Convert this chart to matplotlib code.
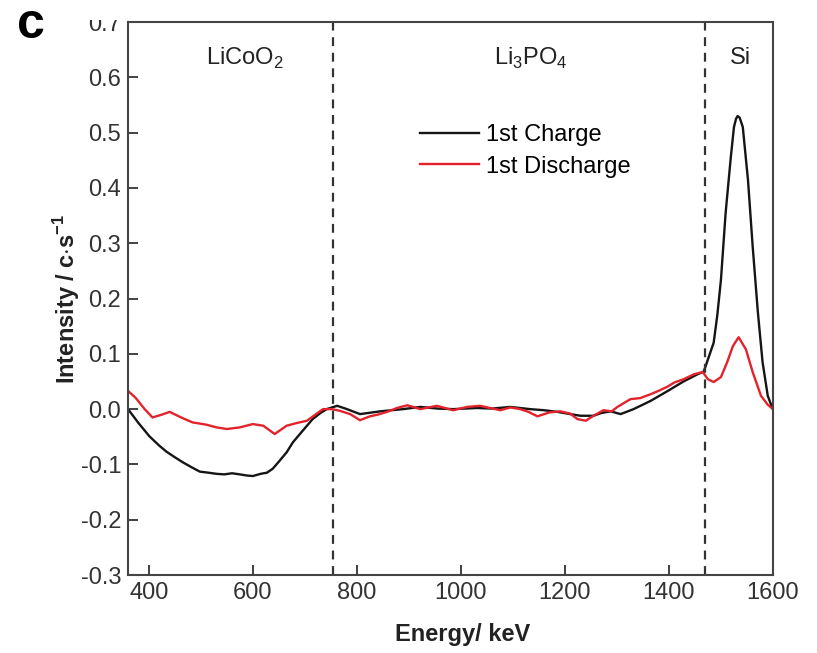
import matplotlib as mpl
import matplotlib.pyplot as plt
from matplotlib.patches import Rectangle

mpl.rcParams['font.family'] = ['Liberation Sans', 'DejaVu Sans']
mpl.rcParams['axes.unicode_minus'] = False
mpl.rcParams['mathtext.fontset'] = 'custom'
mpl.rcParams['mathtext.rm'] = 'Liberation Sans'
mpl.rcParams['mathtext.bf'] = 'Liberation Sans:bold'

# Depth profile after the first charge (black) and first discharge (red).
energy_charge = [360, 380, 401, 420, 434, 450, 465, 482, 498, 515,
                 530, 545, 560, 575, 588, 600, 615, 627, 638, 650,
                 665, 677, 695, 715, 730, 742, 762, 781, 806, 845,
                 889, 922, 955, 985, 1031, 1060, 1095, 1133, 1160, 1186,
                 1210, 1230, 1255, 1270, 1288, 1307, 1332, 1365, 1398, 1428,
                 1455, 1467, 1475, 1486, 1493, 1500, 1509, 1519, 1525, 1529,
                 1532, 1536, 1542, 1552, 1561, 1571, 1580, 1590, 1598, 1600]
charge = [0.0, -0.025, -0.049, -0.066, -0.077, -0.087, -0.096, -0.105, -0.113, -0.115,
          -0.117, -0.118, -0.116, -0.118, -0.12, -0.121, -0.117, -0.115, -0.108, -0.095,
          -0.078, -0.06, -0.04, -0.018, -0.007, 0.0, 0.006, 0.0, -0.009, -0.004,
          0.0, 0.004, 0.001, 0.0, 0.002, 0.001, 0.004, 0.0, -0.002, -0.005,
          -0.009, -0.012, -0.012, -0.007, -0.004, -0.009, 0.0, 0.015, 0.033, 0.05,
          0.063, 0.068, 0.09, 0.12, 0.17, 0.234, 0.355, 0.456, 0.51, 0.525,
          0.53, 0.527, 0.51, 0.414, 0.294, 0.175, 0.085, 0.024, 0.004, 0.0]

energy_discharge = [360, 375, 392, 407, 425, 440, 462, 484, 510, 530,
                    550, 575, 600, 620, 642, 665, 685, 704, 720, 735,
                    752, 767, 787, 806, 825, 840, 858, 877, 897, 922,
                    954, 985, 1012, 1037, 1056, 1076, 1095, 1114, 1130, 1147,
                    1170, 1191, 1210, 1224, 1240, 1255, 1274, 1290, 1301, 1326,
                    1345, 1365, 1380, 1398, 1410, 1428, 1448, 1465, 1475, 1486,
                    1500, 1512, 1523, 1534, 1548, 1561, 1577, 1590, 1600]
discharge = [0.033, 0.02, 0.0, -0.015, -0.01, -0.005, -0.015, -0.024, -0.028, -0.033,
             -0.036, -0.033, -0.027, -0.03, -0.045, -0.03, -0.025, -0.021, -0.01, 0.0,
             0.0, -0.003, -0.009, -0.02, -0.013, -0.01, -0.005, 0.002, 0.007, 0.0,
             0.006, -0.002, 0.004, 0.006, 0.002, -0.002, 0.003, 0.0, -0.005, -0.013,
             -0.006, -0.004, -0.008, -0.018, -0.021, -0.012, -0.002, -0.004, 0.004, 0.018,
             0.02, 0.027, 0.033, 0.041, 0.048, 0.054, 0.063, 0.067, 0.054, 0.049,
             0.058, 0.085, 0.114, 0.13, 0.108, 0.067, 0.024, 0.008, 0.0]

# Layer boundaries and layer names
boundaries = [755, 1470]
layer_names = ['LiCoO$_2$', 'Li$_3$PO$_4$', 'Si']
layer_x = [584, 1134, 1538]

x_ticks = [400, 600, 800, 1000, 1200, 1400, 1600]
y_ticks = [-0.3, -0.2, -0.1, 0.0, 0.1, 0.2, 0.3, 0.4, 0.5, 0.6, 0.7]

fig = plt.figure(figsize=(8.17, 6.53), dpi=100)
ax = fig.add_axes([0.1567, 0.1194, 0.7894, 0.8469])

ax.plot(energy_charge, charge, color='#151515', lw=1.7, label='1st Charge')
ax.plot(energy_discharge, discharge, color='#e3222c', lw=1.7, label='1st Discharge')

for b in boundaries:
    ax.axvline(b, color='#333333', lw=1.6, linestyle=(0, (4, 3)))

for name, xpos in zip(layer_names, layer_x):
    ax.text(xpos, 0.635, name, ha='center', va='center', fontsize=17, color='#222222')

ax.set_xlim(360, 1600)
ax.set_ylim(-0.3, 0.7)
ax.set_xticks(x_ticks)
ax.set_yticks(y_ticks)
ax.set_yticklabels(['%.1f' % v for v in y_ticks])
ax.tick_params(direction='in', length=7, width=1.3, labelsize=17,
               colors='#333333', labelcolor='#333333', pad=5)
for spine in ax.spines.values():
    spine.set_color('#444444')
    spine.set_linewidth(1.5)

ax.set_xlabel('Energy/ keV', fontsize=17, fontweight='bold', color='#222222')
ax.xaxis.set_label_coords(0.519, -0.086)
ax.set_ylabel(r'Intensity / c$\cdot$s$^\mathbf{-1}$', fontsize=17, fontweight='bold',
              color='#222222')
ax.yaxis.set_label_coords(-0.072, 0.5)

ax.legend(loc='upper left', bbox_to_anchor=(0.452, 0.815), frameon=False,
          fontsize=17, handlelength=2.5, handletextpad=0.3, labelspacing=0.4,
          borderpad=0, borderaxespad=0)

# the upper part of the top tick label is hidden under the panel margin
fig.patches.append(Rectangle((0.07, 0.97), 0.08, 0.03, transform=fig.transFigure,
                             facecolor='white', edgecolor='none', zorder=10))

fig.text(0.038, 0.942, 'c', fontsize=36, fontweight='heavy', ha='center', va='baseline',
         zorder=11)

fig.savefig('out.png', dpi=100)
